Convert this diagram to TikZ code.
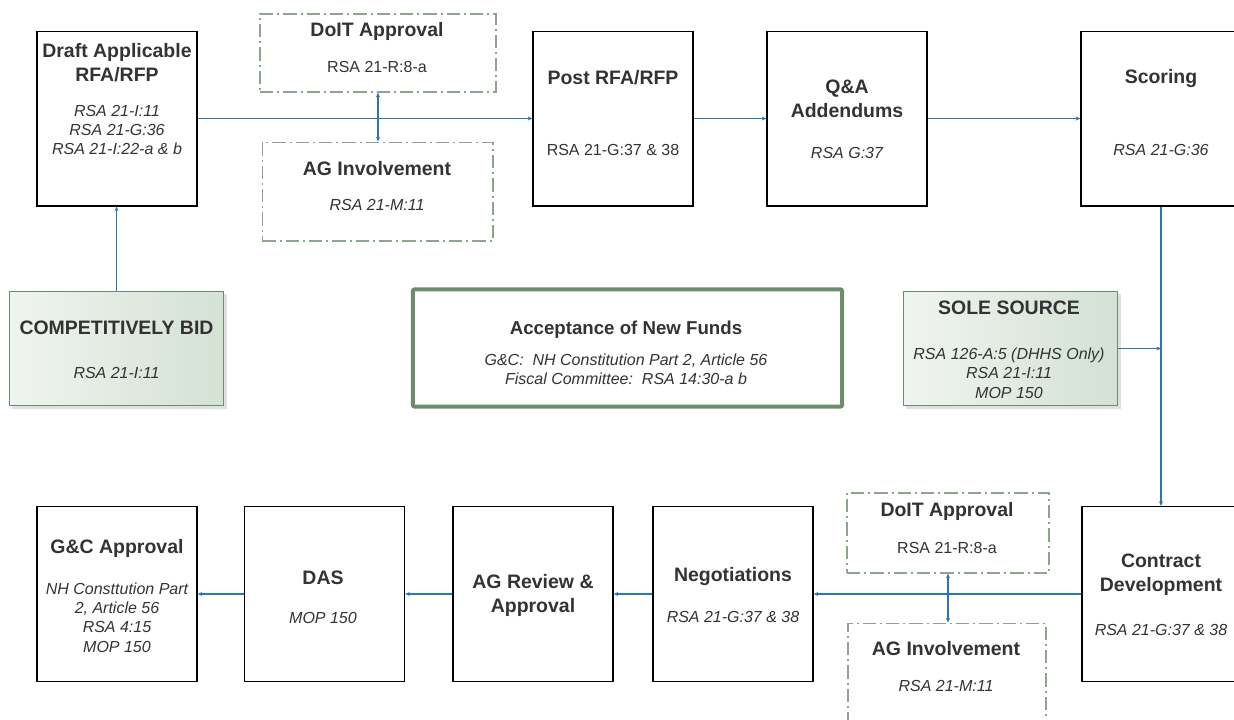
\documentclass[tikz,border=0pt]{standalone}
\usepackage{fontspec}
\setmainfont{Liberation Sans}
\usetikzlibrary{arrows.meta, positioning, shadows}

\definecolor{flowblue}{RGB}{46,117,182}
\definecolor{sage}{RGB}{140,165,140}
\definecolor{sagedark}{RGB}{109,139,109}
\definecolor{sagelight}{RGB}{240,244,240}
\definecolor{sagemid}{RGB}{212,225,212}
\definecolor{inkgray}{RGB}{51,51,51}

\tikzset{
	stepbox/.style={draw=black, line width=1pt, minimum width=120pt, minimum height=131pt, inner sep=0pt},
	sidebox/.style={draw=sage, line width=1pt, dash pattern=on 10pt off 3pt on 1.5pt off 3pt, inner sep=0pt},
	pathbox/.style={draw=sagedark, line width=0.8pt, left color=sagelight, right color=sagemid,
		minimum width=161pt, minimum height=86pt, inner sep=0pt,
		general shadow={fill=black!12, shadow xshift=2pt, shadow yshift=-2pt}},
	fundbox/.style={draw=sagedark, line width=3pt, rounded corners=1.5pt, fill=white,
		minimum width=322pt, minimum height=88pt, inner sep=0pt},
	flow/.style={draw=flowblue, line width=0.9pt, -{Stealth[length=3.5pt,width=3pt]}},
	both/.style={flow, {Stealth[length=3.5pt,width=3pt]}-{Stealth[length=3.5pt,width=3pt]}},
	ttl/.style={font=\fontsize{14.6}{18}\selectfont\bfseries, text=inkgray, align=center, inner sep=0pt},
	sub/.style={font=\fontsize{12}{14.6}\selectfont\itshape, text=inkgray, align=center, inner sep=0pt},
	subup/.style={font=\fontsize{12}{14.6}\selectfont, text=inkgray, align=center, inner sep=0pt}
}

\begin{document}
\begin{tikzpicture}[x=0.75pt, y=-0.75pt]
	\useasboundingbox (0,0) rectangle (1234,719);

	% top row
	\node[stepbox] (draft) at (117,118.5) {};
	\node[stepbox] (post)  at (613,118.5) {};
	\node[stepbox] (qa)    at (847,118.5) {};
	\node[stepbox] (score) at (1161,118.5) {};
	\node[sidebox, minimum width=177pt, minimum height=58.5pt] (doitA) at (378,53) {};
	\node[sidebox, minimum width=173pt, minimum height=74pt] (agA) at (377.5,191.5) {};

	\node[ttl] (draft-t) at (117,62.5) {Draft Applicable\\RFA/RFP};
	\node[sub] (draft-s) at (117,130) {RSA 21-I:11\\RSA 21-G:36\\RSA 21-I:22-a \& b};
	\node[ttl] (post-t) at (613,78) {Post RFA/RFP};
	\node[subup] (post-s) at (613,150) {RSA 21-G:37 \& 38};
	\node[ttl] (qa-t) at (847,98.5) {Q\&A\\Addendums};
	\node[sub] (qa-s) at (847,153) {RSA G:37};
	\node[ttl] (score-t) at (1161,79) {Scoring};
	\node[sub] (score-s) at (1161,150) {RSA 21-G:36};
	\node[ttl] (doitA-t) at (377,31) {DoIT Approval};
	\node[subup] (doitA-s) at (377,67) {RSA 21-R:8-a};
	\node[ttl] (agA-t) at (377,169) {AG Involvement};
	\node[sub] (agA-s) at (377,205) {RSA 21-M:11};

	% middle
	\node[pathbox] (bid) at (116.5,348.5) {};
	\node[ttl] (bid-t) at (116.5,328) {COMPETITIVELY BID};
	\node[sub] (bid-s) at (116.5,373) {RSA 21-I:11};
	\node[fundbox] (funds) at (627.5,348) {};
	\node[ttl, font=\fontsize{14}{18}\selectfont\bfseries] (funds-t) at (626,330) {Acceptance of New Funds};
	\node[sub] (funds-s) at (626,369.5) {G\&C:\ \ NH Constitution Part 2, Article 56\\Fiscal Committee:\ \ RSA 14:30-a b};
	\node[pathbox] (sole) at (1010.5,348.5) {};
	\node[ttl] (sole-t) at (1009,308) {SOLE SOURCE};
	\node[sub] (sole-s) at (1009,373) {RSA 126-A:5 (DHHS Only)\\RSA 21-I:11\\MOP 150};

	% bottom row
	\node[stepbox] (gc)       at (117,594) {};
	\node[stepbox] (das)      at (324.5,594) {};
	\node[stepbox] (agrev)    at (533,594) {};
	\node[stepbox] (nego)     at (733,594) {};
	\node[stepbox] (contract) at (1162,594) {};
	\node[sidebox, minimum width=151.5pt, minimum height=60pt] (doitB) at (948,533) {};
	\node[sidebox, minimum width=148.5pt, minimum height=74pt] (agB) at (947,672.5) {};

	\node[ttl] (gc-t) at (117,548) {G\&C Approval};
	\node[sub] (gc-s) at (117,617.5) {NH Consttution Part\\2, Article 56\\RSA 4:15\\MOP 150};
	\node[ttl] (das-t) at (323,578) {DAS};
	\node[sub] (das-s) at (323,618) {MOP 150};
	\node[ttl] (agrev-t) at (533,595) {AG Review \&\\Approval};
	\node[ttl] (nego-t) at (733,576) {Negotiations};
	\node[sub] (nego-s) at (733,617) {RSA 21-G:37 \& 38};
	\node[ttl] (contract-t) at (1161,575) {Contract\\Development};
	\node[sub] (contract-s) at (1161,630) {RSA 21-G:37 \& 38};
	\node[ttl] (doitB-t) at (947,511) {DoIT Approval};
	\node[subup] (doitB-s) at (947,548) {RSA 21-R:8-a};
	\node[ttl] (agB-t) at (946,649) {AG Involvement};
	\node[sub] (agB-s) at (946,686) {RSA 21-M:11};

	% connectors
	\foreach \a/\b in {draft/post, post/qa, qa/score}
		\draw[flow] (\a.east) -- (\b.west);
	\foreach \a/\b in {contract/nego, nego/agrev, agrev/das, das/gc}
		\draw[flow] (\a.west) -- (\b.east);
	\draw[both] (doitA.south) -- (doitA.south |- agA.north);
	\draw[both] (doitB.south) -- (doitB.south |- agB.north);
	\draw[flow] (bid.north) -- (bid.north |- draft.south);
	\draw[flow] (score.south) -- (score.south |- contract.north);
	\coordinate (junc) at (score.south |- sole.east);
	\draw[flow] (sole.east) -- (junc);
\end{tikzpicture}
\end{document}
